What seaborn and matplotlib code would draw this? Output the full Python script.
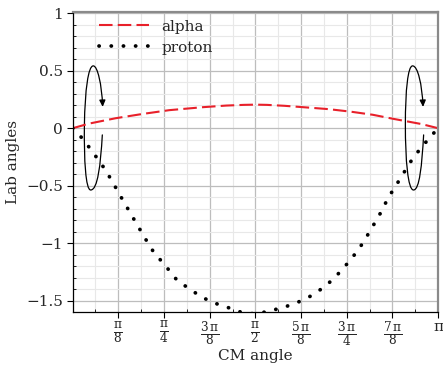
import numpy as np
import matplotlib
matplotlib.use("Agg")
import matplotlib.pyplot as plt
from matplotlib.path import Path
from matplotlib.patches import FancyArrowPatch
from matplotlib.ticker import MultipleLocator, FixedLocator
import seaborn as sns

# values (radians)
alpha_x = [0.0, 0.14, 0.37, 0.60, 0.83, 1.12, 1.32, 1.47, 1.571, 1.67, 1.82, 2.02, 2.20, 2.39, 2.58, 2.76, 3.00, 3.1416]
alpha_y = [0.0, 0.040, 0.087, 0.124, 0.157, 0.183, 0.197, 0.203, 0.205, 0.203, 0.195, 0.180, 0.166, 0.144, 0.117, 0.081, 0.036, 0.0]

proton_x = [0.0, 0.085, 0.148, 0.211, 0.274, 0.326, 0.378, 0.430, 0.482, 0.537, 0.591, 0.643,
            0.697, 0.770, 0.839, 0.900, 0.997, 1.094, 1.198, 1.314, 1.45, 1.571, 1.69, 1.832,
            1.946, 2.052, 2.147, 2.229, 2.306, 2.375, 2.441, 2.499, 2.551, 2.605, 2.660, 2.708,
            2.764, 2.818, 2.872, 2.930, 2.997, 3.066, 3.1416]
proton_y = [0.0, -0.090, -0.174, -0.261, -0.351, -0.438, -0.530, -0.623, -0.713, -0.809, -0.902, -0.991,
            -1.078, -1.163, -1.247, -1.325, -1.391, -1.458, -1.513, -1.551, -1.600, -1.615, -1.590, -1.551,
            -1.508, -1.456, -1.391, -1.322, -1.241, -1.160, -1.076, -0.991, -0.902, -0.809, -0.713, -0.612,
            -0.522, -0.435, -0.345, -0.252, -0.169, -0.085, 0.0]

xtick_vals = [np.pi / 8 * k for k in range(1, 9)]
xtick_labels = [r"$\frac{\mathrm{\pi}}{8}$", r"$\frac{\mathrm{\pi}}{4}$", r"$\frac{3\,\mathrm{\pi}}{8}$",
                r"$\frac{\mathrm{\pi}}{2}$", r"$\frac{5\,\mathrm{\pi}}{8}$", r"$\frac{3\,\mathrm{\pi}}{4}$",
                r"$\frac{7\,\mathrm{\pi}}{8}$", "\u03c0"]
ytick_vals = [1, 0.5, 0, -0.5, -1, -1.5]
ytick_labels = ["1", "0.5", "0", "\u22120.5", "\u22121", "\u22121.5"]

sns.set_theme(style="whitegrid")
plt.rcParams["font.family"] = ["DejaVu Serif"]
plt.rcParams["mathtext.fontset"] = "dejavuserif"

fig = plt.figure(figsize=(4.43, 3.65), dpi=100)
ax = fig.add_axes([0.164, 0.146, 0.825, 0.821])

sns.lineplot(x=alpha_x, y=alpha_y, ax=ax, color="#e8202a", lw=1.5, sort=False,
             linestyle=(0, (6.5, 2.5)), label="alpha")
sns.lineplot(x=proton_x, y=proton_y, ax=ax, color="black", lw=2.7, sort=False,
             linestyle=(0, (0.05, 3.2)), dash_capstyle="round", label="proton")

ax.set_xlim(0, np.pi)
ax.set_ylim(-1.595, 1.01)
ax.xaxis.set_major_locator(FixedLocator(xtick_vals))
ax.set_xticklabels(xtick_labels, fontsize=12.5)
ax.get_xticklabels()[-1].set_fontsize(11)
ax.xaxis.set_minor_locator(MultipleLocator(np.pi / 16))
ax.set_yticks(ytick_vals)
ax.set_yticklabels(ytick_labels, fontsize=11)
ax.yaxis.set_minor_locator(MultipleLocator(0.1))

ax.set_facecolor("white")
ax.grid(which="major", color="#bdbdbd", lw=0.9)
ax.grid(which="minor", color="#e8e8e8", lw=0.8)
ax.set_axisbelow(True)
ax.tick_params(axis="both", which="major", length=4, width=0.8, color="black",
               direction="out", pad=3, left=True, bottom=True)
ax.tick_params(axis="x", which="major", pad=2)
ax.tick_params(axis="both", which="minor", length=2.5, width=0.6, color="black",
               direction="in", left=True, bottom=True)
for side in ["left", "bottom"]:
    ax.spines[side].set_color("black")
    ax.spines[side].set_linewidth(0.9)
for side in ["top", "right"]:
    ax.spines[side].set_color("#8a8a8a")
    ax.spines[side].set_linewidth(1.6)

ax.set_xlabel("CM angle", fontsize=11, labelpad=-1)
ax.set_ylabel("Lab angles", fontsize=11, labelpad=4)

ax.legend(loc="upper left", bbox_to_anchor=(0.05, 1.0), borderaxespad=0.1, frameon=False,
          fontsize=11, handlelength=3.3, labelspacing=0.45, handletextpad=0.8)

# hand-drawn loop arrows near the two ends
def loop(pts):
    codes = [Path.MOVETO] + [Path.CURVE4] * (len(pts) - 1)
    p = FancyArrowPatch(path=Path(pts, codes), arrowstyle="-|>,head_length=2.6,head_width=1.2",
                        color="black", lw=0.9, mutation_scale=1.5, clip_on=False)
    ax.add_patch(p)

loop([(0.255, -0.058), (0.240, -0.319), (0.215, -0.537), (0.155, -0.537),
      (0.112, -0.537), (0.097, -0.276), (0.101, 0.029),
      (0.106, 0.333), (0.134, 0.542), (0.177, 0.542),
      (0.215, 0.542), (0.250, 0.377), (0.258, 0.185)])
loop([(3.017, -0.058), (3.002, -0.319), (2.982, -0.537), (2.930, -0.537),
      (2.882, -0.537), (2.860, -0.276), (2.860, 0.029),
      (2.860, 0.333), (2.882, 0.542), (2.922, 0.542),
      (2.968, 0.542), (3.003, 0.377), (3.012, 0.185)])

fig.savefig("out.png", dpi=100)
plt.close(fig)
